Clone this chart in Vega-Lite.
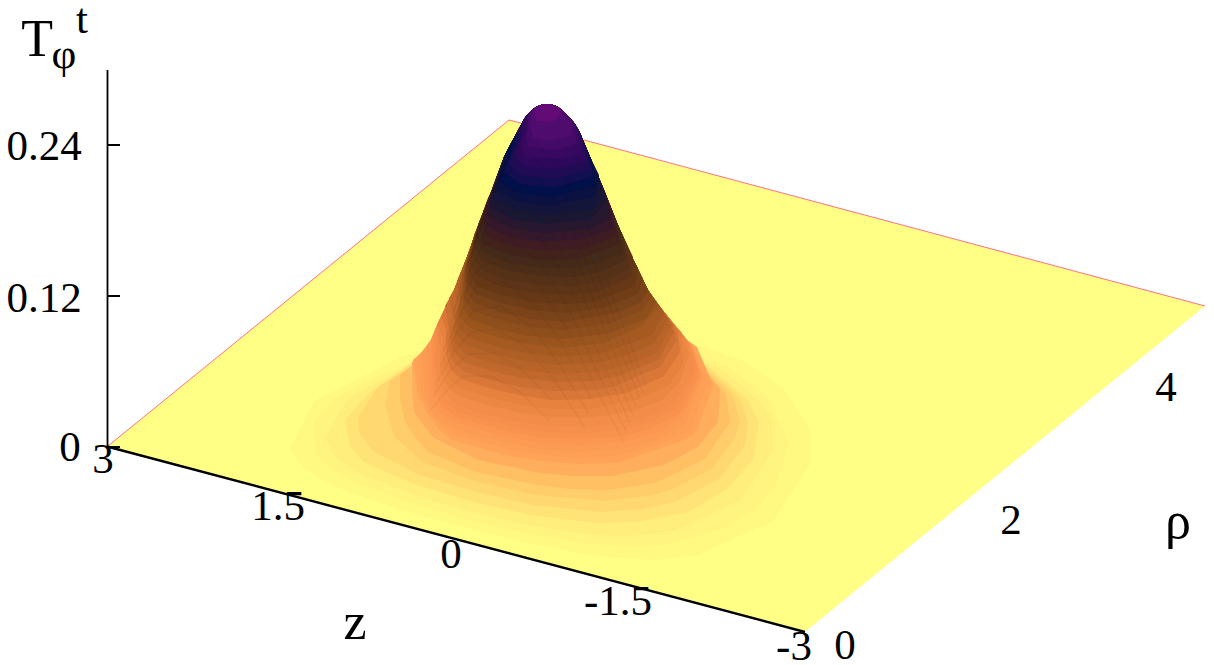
{"$schema":"https://vega.github.io/schema/vega-lite/v6.json","width":1214,"height":665,"padding":0,"autosize":{"type":"none"},"background":"white","view":{"stroke":null},"projection":{"type":"identity","scale":1,"translate":[0,0]},"layer":[
{"data":{"values":[
{"type":"Feature","properties":{"T":0},"geometry":{"type":"Polygon","coordinates":[[[108,446],[509,120],[1205,306],[806,631],[108,446]]]}},
{"type":"Feature","properties":{"T":0.005},"geometry":{"type":"Polygon","coordinates":[[[314,401],[290,449],[304,468],[326,482],[351,493],[406,511],[463,527],[522,542],[584,554],[618,558],[654,560],[698,555],[773,521],[811,463],[811,432],[785,390],[744,361],[690,342],[628,330],[552,329],[461,340],[403,356],[314,401]]]}},
{"type":"Feature","properties":{"T":0.0095},"geometry":{"type":"Polygon","coordinates":[[[333,400],[314,423],[315,453],[332,470],[356,483],[409,502],[465,519],[525,533],[589,544],[624,546],[665,545],[722,529],[755,510],[776,486],[789,444],[769,397],[729,367],[676,347],[613,336],[536,336],[439,352],[368,380],[333,400]]]}},
{"type":"Feature","properties":{"T":0.014},"geometry":{"type":"Polygon","coordinates":[[[348,398],[325,439],[338,460],[360,474],[412,494],[468,511],[528,525],[593,535],[630,536],[675,531],[740,500],[773,450],[772,420],[759,400],[720,368],[667,349],[604,337],[526,339],[480,344],[423,358],[348,398]]]}},
{"type":"Feature","properties":{"T":0.021},"geometry":{"type":"Polygon","coordinates":[[[369,393],[345,420],[350,446],[364,462],[414,484],[470,501],[530,515],[597,523],[636,522],[688,512],[727,489],[753,459],[759,423],[748,400],[711,368],[658,348],[595,337],[515,339],[467,347],[411,363],[369,393]]]}},
{"type":"Feature","properties":{"T":0.027},"geometry":{"type":"Polygon","coordinates":[[[378,387],[358,417],[359,433],[373,451],[417,474],[473,491],[533,505],[601,512],[643,509],[674,502],[719,479],[745,445],[748,423],[740,398],[704,365],[652,345],[588,334],[507,337],[456,347],[425,358],[378,387]]]}},
{"type":"Feature","properties":{"T":0.033},"geometry":{"type":"Polygon","coordinates":[[[390,381],[385,405],[388,416],[394,436],[422,462],[474,481],[535,495],[605,501],[649,496],[671,490],[712,469],[735,438],[740,422],[733,396],[699,362],[647,341],[583,331],[500,335],[448,346],[430,352],[390,381]]]}},
{"type":"Feature","properties":{"T":0.04},"geometry":{"type":"Polygon","coordinates":[[[400,375],[400,400],[405,422],[416,438],[428,452],[476,472],[537,485],[570,489],[608,490],[655,483],[705,459],[730,422],[726,394],[694,358],[642,337],[578,327],[493,333],[438,346],[400,375]]]}},
{"type":"Feature","properties":{"T":0.048},"geometry":{"type":"Polygon","coordinates":[[[412,362],[412,390],[414,412],[424,426],[434,438],[478,460],[540,473],[574,476],[612,476],[664,465],[698,447],[718,422],[720,389],[688,352],[638,330],[572,320],[490,330],[430,345],[412,362]]]}},
{"type":"Feature","properties":{"T":0.056},"geometry":{"type":"Polygon","coordinates":[[[413,360],[418,396],[428,414],[438,428],[452,440],[480,448],[510,456],[542,461],[576,464],[617,463],[682,441],[693,436],[698,428],[713,385],[697,347],[687,340],[673,323],[660,307],[648,290],[632,257],[617,223],[604,190],[590,157],[585,145],[580,133],[575,124],[569,117],[563,111],[558,107],[552,104.5],[547,104],[542,104.5],[536,107],[531,111],[526,116],[522,123],[514,138],[509,147],[504,157],[492,190],[479,223],[467,257],[454,290],[438,323],[431,340],[422,352],[413,360]]]}},
{"type":"Feature","properties":{"T":0.0596},"geometry":{"type":"Polygon","coordinates":[[[418,356],[421,392],[428,410],[438,423],[453,434],[481,442],[511,450],[543,455],[577,458],[619,456],[668,441],[690,430],[708,382],[692,345],[687,340],[673,323],[660,307],[648,290],[632,257],[617,223],[604,190],[590,157],[585,145],[580,133],[575,124],[569,117],[563,111],[558,107],[552,104.5],[547,104],[542,104.5],[536,107],[531,111],[526,116],[522,123],[514,138],[509,147],[504,157],[492,190],[479,223],[467,257],[454,290],[438,323],[431,340],[422,352],[418,356]]]}},
{"type":"Feature","properties":{"T":0.064},"geometry":{"type":"Polygon","coordinates":[[[422,352],[424,388],[429,406],[438,419],[454,428],[482,437],[512,444],[544,450],[579,452],[621,449],[655,441],[685,424],[703,378],[692,345],[687,340],[673,323],[660,307],[648,290],[632,257],[617,223],[604,190],[590,157],[585,145],[580,133],[575,124],[569,117],[563,111],[558,107],[552,104.5],[547,104],[542,104.5],[536,107],[531,111],[526,116],[522,123],[514,138],[509,147],[504,157],[492,190],[479,223],[467,257],[454,290],[438,323],[431,340],[422,352]]]}},
{"type":"Feature","properties":{"T":0.0675},"geometry":{"type":"Polygon","coordinates":[[[427,346],[428,381],[431,400],[440,413],[455,422],[483,431],[513,438],[545,444],[580,445],[623,442],[653,434],[682,418],[701,376],[692,347],[687,340],[673,323],[660,307],[648,290],[632,257],[617,223],[604,190],[590,157],[585,145],[580,133],[575,124],[569,117],[563,111],[558,107],[552,104.5],[547,104],[542,104.5],[536,107],[531,111],[526,116],[522,123],[514,138],[509,147],[504,157],[492,190],[479,223],[467,257],[454,290],[438,323],[431,340],[427,346]]]}},
{"type":"Feature","properties":{"T":0.072},"geometry":{"type":"Polygon","coordinates":[[[431,340],[432,375],[434,393],[442,407],[456,417],[484,425],[514,433],[546,438],[582,439],[625,436],[652,428],[680,413],[700,375],[693,350],[684,336],[673,323],[660,307],[648,290],[632,257],[617,223],[604,190],[590,157],[585,145],[580,133],[575,124],[569,117],[563,111],[558,107],[552,104.5],[547,104],[542,104.5],[536,107],[531,111],[526,116],[522,123],[514,138],[509,147],[504,157],[492,190],[479,223],[467,257],[454,290],[438,323],[431,340]]]}},
{"type":"Feature","properties":{"T":0.0755},"geometry":{"type":"Polygon","coordinates":[[[433,335],[434,368],[436,387],[444,401],[457,411],[485,420],[515,427],[547,432],[583,433],[627,429],[653,421],[678,407],[697,372],[691,346],[684,336],[673,323],[660,307],[648,290],[632,257],[617,223],[604,190],[590,157],[585,145],[580,133],[575,124],[569,117],[563,111],[558,107],[552,104.5],[547,104],[542,104.5],[536,107],[531,111],[526,116],[522,123],[514,138],[509,147],[504,157],[492,190],[479,223],[467,257],[454,290],[438,323],[433,335]]]}},
{"type":"Feature","properties":{"T":0.079},"geometry":{"type":"Polygon","coordinates":[[[436,328],[436,361],[438,381],[446,395],[458,405],[486,414],[516,421],[548,426],[585,427],[630,422],[655,414],[676,401],[694,370],[689,343],[680,332],[673,323],[660,307],[648,290],[632,257],[617,223],[604,190],[590,157],[585,145],[580,133],[575,124],[569,117],[563,111],[558,107],[552,104.5],[547,104],[542,104.5],[536,107],[531,111],[526,116],[522,123],[514,138],[509,147],[504,157],[492,190],[479,223],[467,257],[454,290],[438,323],[436,328]]]}},
{"type":"Feature","properties":{"T":0.0855},"geometry":{"type":"Polygon","coordinates":[[[437,325],[440,350],[440,372],[447,386],[459,396],[487,405],[517,412],[549,417],[587,418],[635,411],[662,400],[680,382],[689,355],[685,338],[673,323],[660,307],[648,290],[632,257],[617,223],[604,190],[590,157],[585,145],[580,133],[575,124],[569,117],[563,111],[558,107],[552,104.5],[547,104],[542,104.5],[536,107],[531,111],[526,116],[522,123],[514,138],[509,147],[504,157],[492,190],[479,223],[467,257],[454,290],[437,325]]]}},
{"type":"Feature","properties":{"T":0.091},"geometry":{"type":"Polygon","coordinates":[[[438,323],[443,338],[443,363],[449,378],[460,388],[488,397],[518,404],[551,409],[589,409],[640,399],[669,385],[683,364],[682,333],[673,323],[660,307],[648,290],[632,257],[617,223],[604,190],[590,157],[585,145],[580,133],[575,124],[569,117],[563,111],[558,107],[552,104.5],[547,104],[542,104.5],[536,107],[531,111],[526,116],[522,123],[514,138],[509,147],[504,157],[492,190],[479,223],[467,257],[454,290],[438,323]]]}},
{"type":"Feature","properties":{"T":0.0974},"geometry":{"type":"Polygon","coordinates":[[[441,316],[446,330],[446,353],[450,369],[461,379],[489,388],[519,395],[552,400],[591,399],[626,393],[664,376],[680,352],[678,330],[673,323],[660,307],[648,290],[632,257],[617,223],[604,190],[590,157],[585,145],[580,133],[575,124],[569,117],[563,111],[558,107],[552,104.5],[547,104],[542,104.5],[536,107],[531,111],[526,116],[522,123],[514,138],[509,147],[504,157],[492,190],[479,223],[467,257],[454,290],[441,316]]]}},
{"type":"Feature","properties":{"T":0.103},"geometry":{"type":"Polygon","coordinates":[[[445,306],[450,335],[448,344],[452,360],[463,371],[490,380],[521,387],[554,391],[594,390],[613,387],[660,367],[677,340],[673,323],[660,307],[648,290],[632,257],[617,223],[604,190],[590,157],[585,145],[580,133],[575,124],[569,117],[563,111],[558,107],[552,104.5],[547,104],[542,104.5],[536,107],[531,111],[526,116],[522,123],[514,138],[509,147],[504,157],[492,190],[479,223],[467,257],[454,290],[445,306]]]}},
{"type":"Feature","properties":{"T":0.1093},"geometry":{"type":"Polygon","coordinates":[[[449,298],[454,322],[450,335],[453,351],[464,362],[491,371],[522,378],[555,382],[595,381],[622,375],[659,359],[674,332],[660,307],[648,290],[632,257],[617,223],[604,190],[590,157],[585,145],[580,133],[575,124],[569,117],[563,111],[558,107],[552,104.5],[547,104],[542,104.5],[536,107],[531,111],[526,116],[522,123],[514,138],[509,147],[504,157],[492,190],[479,223],[467,257],[454,290],[449,298]]]}},
{"type":"Feature","properties":{"T":0.115},"geometry":{"type":"Polygon","coordinates":[[[454,290],[459,309],[453,326],[455,343],[465,354],[493,363],[523,370],[557,374],[597,372],[631,364],[658,352],[672,325],[660,307],[648,290],[632,257],[617,223],[604,190],[590,157],[585,145],[580,133],[575,124],[569,117],[563,111],[558,107],[552,104.5],[547,104],[542,104.5],[536,107],[531,111],[526,116],[522,123],[514,138],[509,147],[504,157],[492,190],[479,223],[467,257],[454,290]]]}},
{"type":"Feature","properties":{"T":0.1212},"geometry":{"type":"Polygon","coordinates":[[[457,281],[461,300],[455,316],[456,334],[466,345],[494,354],[524,361],[558,365],[600,362],[630,354],[655,343],[668,318],[660,307],[648,290],[632,257],[617,223],[604,190],[590,157],[585,145],[580,133],[575,124],[569,117],[563,111],[558,107],[552,104.5],[547,104],[542,104.5],[536,107],[531,111],[526,116],[522,123],[514,138],[509,147],[504,157],[492,190],[479,223],[467,257],[457,281]]]}},
{"type":"Feature","properties":{"T":0.127},"geometry":{"type":"Polygon","coordinates":[[[461,272],[463,292],[458,307],[458,326],[468,337],[495,346],[526,353],[560,357],[602,353],[629,344],[652,335],[664,312],[648,290],[632,257],[617,223],[604,190],[590,157],[585,145],[580,133],[575,124],[569,117],[563,111],[558,107],[552,104.5],[547,104],[542,104.5],[536,107],[531,111],[526,116],[522,123],[514,138],[509,147],[504,157],[492,190],[479,223],[467,257],[461,272]]]}},
{"type":"Feature","properties":{"T":0.1331},"geometry":{"type":"Polygon","coordinates":[[[464,264],[464,281],[460,297],[460,317],[470,328],[496,337],[527,344],[561,348],[604,343],[640,327],[660,307],[648,290],[632,257],[617,223],[604,190],[590,157],[585,145],[580,133],[575,124],[569,117],[563,111],[558,107],[552,104.5],[547,104],[542,104.5],[536,107],[531,111],[526,116],[522,123],[514,138],[509,147],[504,157],[492,190],[479,223],[467,257],[464,264]]]}},
{"type":"Feature","properties":{"T":0.139},"geometry":{"type":"Polygon","coordinates":[[[467,257],[465,270],[463,288],[463,308],[472,320],[498,329],[528,336],[563,339],[607,334],[646,319],[656,302],[648,290],[632,257],[617,223],[604,190],[590,157],[585,145],[580,133],[575,124],[569,117],[563,111],[558,107],[552,104.5],[547,104],[542,104.5],[536,107],[531,111],[526,116],[522,123],[514,138],[509,147],[504,157],[492,190],[479,223],[467,257]]]}},
{"type":"Feature","properties":{"T":0.145},"geometry":{"type":"Polygon","coordinates":[[[470,250],[467,262],[465,278],[464,299],[473,311],[499,320],[529,327],[564,330],[611,323],[643,310],[652,296],[648,290],[632,257],[617,223],[604,190],[590,157],[585,145],[580,133],[575,124],[569,117],[563,111],[558,107],[552,104.5],[547,104],[542,104.5],[536,107],[531,111],[526,116],[522,123],[514,138],[509,147],[504,157],[492,190],[479,223],[470,250]]]}},
{"type":"Feature","properties":{"T":0.151},"geometry":{"type":"Polygon","coordinates":[[[472,242],[470,255],[467,267],[466,291],[475,303],[500,312],[531,319],[566,322],[615,313],[641,302],[648,290],[632,257],[617,223],[604,190],[590,157],[585,145],[580,133],[575,124],[569,117],[563,111],[558,107],[552,104.5],[547,104],[542,104.5],[536,107],[531,111],[526,116],[522,123],[514,138],[509,147],[504,157],[492,190],[479,223],[472,242]]]}},
{"type":"Feature","properties":{"T":0.157},"geometry":{"type":"Polygon","coordinates":[[[474,235],[472,250],[468,264],[467,282],[476,294],[501,303],[532,310],[567,313],[605,307],[638,294],[643,279],[632,257],[617,223],[604,190],[590,157],[585,145],[580,133],[575,124],[569,117],[563,111],[558,107],[552,104.5],[547,104],[542,104.5],[536,107],[531,111],[526,116],[522,123],[514,138],[509,147],[504,157],[492,190],[479,223],[474,235]]]}},
{"type":"Feature","properties":{"T":0.163},"geometry":{"type":"Polygon","coordinates":[[[477,228],[474,245],[470,261],[469,273],[477,286],[502,295],[533,302],[569,304],[596,301],[635,286],[638,268],[632,257],[617,223],[604,190],[590,157],[585,145],[580,133],[575,124],[569,117],[563,111],[558,107],[552,104.5],[547,104],[542,104.5],[536,107],[531,111],[526,116],[522,123],[514,138],[509,147],[504,157],[492,190],[479,223],[477,228]]]}},
{"type":"Feature","properties":{"T":0.169},"geometry":{"type":"Polygon","coordinates":[[[479,222],[476,236],[472,252],[471,264],[478,277],[503,287],[534,293],[571,295],[599,291],[632,277],[633,257],[617,223],[604,190],[590,157],[585,145],[580,133],[575,124],[569,117],[563,111],[558,107],[552,104.5],[547,104],[542,104.5],[536,107],[531,111],[526,116],[522,123],[514,138],[509,147],[504,157],[492,190],[479,222]]]}},
{"type":"Feature","properties":{"T":0.175},"geometry":{"type":"Polygon","coordinates":[[[482,215],[478,228],[474,242],[473,255],[480,269],[505,279],[536,285],[573,286],[602,281],[630,269],[628,247],[617,223],[604,190],[590,157],[585,145],[580,133],[575,124],[569,117],[563,111],[558,107],[552,104.5],[547,104],[542,104.5],[536,107],[531,111],[526,116],[522,123],[514,138],[509,147],[504,157],[492,190],[482,215]]]}},
{"type":"Feature","properties":{"T":0.181},"geometry":{"type":"Polygon","coordinates":[[[484,210],[480,221],[476,234],[474,246],[481,260],[506,270],[537,276],[574,277],[600,272],[626,260],[624,240],[617,223],[604,190],[590,157],[585,145],[580,133],[575,124],[569,117],[563,111],[558,107],[552,104.5],[547,104],[542,104.5],[536,107],[531,111],[526,116],[522,123],[514,138],[509,147],[504,157],[492,190],[484,210]]]}},
{"type":"Feature","properties":{"T":0.187},"geometry":{"type":"Polygon","coordinates":[[[486,204],[483,214],[478,227],[476,237],[482,252],[507,262],[538,268],[576,268],[598,263],[623,252],[621,232],[617,223],[604,190],[590,157],[585,145],[580,133],[575,124],[569,117],[563,111],[558,107],[552,104.5],[547,104],[542,104.5],[536,107],[531,111],[526,116],[522,123],[514,138],[509,147],[504,157],[492,190],[486,204]]]}},
{"type":"Feature","properties":{"T":0.193},"geometry":{"type":"Polygon","coordinates":[[[488,198],[484,209],[480,226],[482,244],[508,254],[540,260],[578,259],[620,244],[617,222],[604,190],[590,157],[585,145],[580,133],[575,124],[569,117],[563,111],[558,107],[552,104.5],[547,104],[542,104.5],[536,107],[531,111],[526,116],[522,123],[514,138],[509,147],[504,157],[492,190],[488,198]]]}},
{"type":"Feature","properties":{"T":0.199},"geometry":{"type":"Polygon","coordinates":[[[491,192],[486,204],[483,218],[485,235],[509,245],[541,251],[581,249],[617,236],[612,210],[604,190],[590,157],[585,145],[580,133],[575,124],[569,117],[563,111],[558,107],[552,104.5],[547,104],[542,104.5],[536,107],[531,111],[526,116],[522,123],[514,138],[509,147],[504,157],[491,192]]]}},
{"type":"Feature","properties":{"T":0.205},"geometry":{"type":"Polygon","coordinates":[[[494,183],[488,201],[486,226],[510,237],[542,242],[584,239],[614,228],[609,203],[604,190],[590,157],[585,145],[580,133],[575,124],[569,117],[563,111],[558,107],[552,104.5],[547,104],[542,104.5],[536,107],[531,111],[526,116],[522,123],[514,138],[509,147],[504,157],[494,183]]]}},
{"type":"Feature","properties":{"T":0.211},"geometry":{"type":"Polygon","coordinates":[[[497,176],[490,198],[488,217],[512,228],[544,233],[588,229],[611,219],[606,195],[590,157],[585,145],[580,133],[575,124],[569,117],[563,111],[558,107],[552,104.5],[547,104],[542,104.5],[536,107],[531,111],[526,116],[522,123],[514,138],[509,147],[504,157],[497,176]]]}},
{"type":"Feature","properties":{"T":0.217},"geometry":{"type":"Polygon","coordinates":[[[499,170],[494,188],[490,208],[513,219],[545,224],[591,219],[606,202],[604,190],[590,157],[585,145],[580,133],[575,124],[569,117],[563,111],[558,107],[552,104.5],[547,104],[542,104.5],[536,107],[531,111],[526,116],[522,123],[514,138],[509,147],[504,157],[499,170]]]}},
{"type":"Feature","properties":{"T":0.223},"geometry":{"type":"Polygon","coordinates":[[[502,162],[498,178],[492,199],[515,210],[547,215],[594,209],[602,185],[590,157],[585,145],[580,133],[575,124],[569,117],[563,111],[558,107],[552,104.5],[547,104],[542,104.5],[536,107],[531,111],[526,116],[522,123],[514,138],[509,147],[504,157],[502,162]]]}},
{"type":"Feature","properties":{"T":0.229},"geometry":{"type":"Polygon","coordinates":[[[506,152],[502,168],[496,190],[516,201],[549,206],[595,197],[599,175],[590,157],[585,145],[580,133],[575,124],[569,117],[563,111],[558,107],[552,104.5],[547,104],[542,104.5],[536,107],[531,111],[526,116],[522,123],[514,138],[509,147],[506,152]]]}},
{"type":"Feature","properties":{"T":0.234},"geometry":{"type":"Polygon","coordinates":[[[510,145],[506,158],[499,181],[518,193],[551,197],[596,185],[590,157],[585,145],[580,133],[575,124],[569,117],[563,111],[558,107],[552,104.5],[547,104],[542,104.5],[536,107],[531,111],[526,116],[522,123],[514,138],[510,145]]]}},
{"type":"Feature","properties":{"T":0.24},"geometry":{"type":"Polygon","coordinates":[[[514,138],[511,152],[504,172],[520,184],[553,188],[594,177],[588,152],[580,133],[575,124],[569,117],[563,111],[558,107],[552,104.5],[547,104],[542,104.5],[536,107],[531,111],[526,116],[522,123],[514,138]]]}},
{"type":"Feature","properties":{"T":0.246},"geometry":{"type":"Polygon","coordinates":[[[518,130],[517,145],[508,163],[521,175],[555,179],[591,169],[585,146],[580,133],[575,124],[569,117],[563,111],[558,107],[552,104.5],[547,104],[542,104.5],[536,107],[531,111],[526,116],[522,123],[518,130]]]}},
{"type":"Feature","properties":{"T":0.252},"geometry":{"type":"Polygon","coordinates":[[[522,123],[521,138],[514,153],[523,166],[558,169],[587,160],[582,138],[575,124],[569,117],[563,111],[558,107],[552,104.5],[547,104],[542,104.5],[536,107],[531,111],[526,116],[522,123]]]}},
{"type":"Feature","properties":{"T":0.258},"geometry":{"type":"Polygon","coordinates":[[[525,118],[526,132],[520,143],[525,157],[562,159],[582,152],[578,130],[575,124],[569,117],[563,111],[558,107],[552,104.5],[547,104],[542,104.5],[536,107],[531,111],[526,116],[525,118]]]}},
{"type":"Feature","properties":{"T":0.264},"geometry":{"type":"Polygon","coordinates":[[[528,114],[528,128],[526,140],[529,147],[556,150],[577,143],[575,125],[569,117],[563,111],[558,107],[552,104.5],[547,104],[542,104.5],[536,107],[531,111],[528,114]]]}},
{"type":"Feature","properties":{"T":0.27},"geometry":{"type":"Polygon","coordinates":[[[531,111],[530,125],[533,138],[550,141],[572,135],[572,121],[569,117],[563,111],[558,107],[552,104.5],[547,104],[542,104.5],[536,107],[531,111]]]}},
{"type":"Feature","properties":{"T":0.28},"geometry":{"type":"Polygon","coordinates":[[[534,109],[536,121],[553,122],[563,112],[558,107],[552,104.5],[547,104],[542,104.5],[536,107],[534,109]]]}}
]},"mark":{"type":"geoshape","stroke":null},"encoding":{"color":{"field":"properties.T","type":"quantitative","legend":null,"scale":{"domain":[0,0.016,0.032,0.05,0.07,0.09,0.105,0.13,0.16,0.19,0.215,0.234,0.25,0.287],"range":["#ffff85","#ffec7b","#ffd06c","#ffaa5c","#fa9450","#e8823f","#c86c30","#a05820","#6a3a16","#402818","#1a1830","#001048","#2a0858","#6f0a7c"]}}}},
{"data":{"values":[
{"type":"Feature","properties":{"rho":0.44},"geometry":{"type":"LineString","coordinates":[[430,411],[447,390],[464,376],[491,376],[520,392],[549,420]]}},
{"type":"Feature","properties":{"rho":0.48},"geometry":{"type":"LineString","coordinates":[[433,396],[450,371],[467,354],[494,353],[523,370],[552,401]]}},
{"type":"Feature","properties":{"rho":0.52},"geometry":{"type":"LineString","coordinates":[[437,382],[454,352],[471,332],[498,329],[527,348],[556,382],[585,428]]}},
{"type":"Feature","properties":{"rho":0.56},"geometry":{"type":"LineString","coordinates":[[440,367],[457,333],[474,310],[501,306],[530,326],[559,363],[588,413]]}},
{"type":"Feature","properties":{"rho":0.6},"geometry":{"type":"LineString","coordinates":[[443,352],[460,314],[477,287],[504,282],[533,303],[562,344],[591,398]]}},
{"type":"Feature","properties":{"rho":0.64},"geometry":{"type":"LineString","coordinates":[[446,339],[463,296],[480,266],[507,260],[536,282],[565,326],[594,385],[624,442]]}},
{"type":"Feature","properties":{"rho":0.68},"geometry":{"type":"LineString","coordinates":[[449,325],[466,278],[483,245],[510,238],[539,261],[568,308],[597,371],[627,433]]}},
{"type":"Feature","properties":{"rho":0.72},"geometry":{"type":"LineString","coordinates":[[453,313],[470,261],[487,226],[514,218],[543,242],[572,292],[601,359],[630,423]]}},
{"type":"Feature","properties":{"rho":0.76},"geometry":{"type":"LineString","coordinates":[[456,300],[474,246],[490,208],[517,199],[546,224],[575,276],[604,346],[633,415]]}},
{"type":"Feature","properties":{"rho":0.8},"geometry":{"type":"LineString","coordinates":[[459,290],[477,231],[494,190],[520,180],[549,206],[578,261],[607,335],[636,407]]}},
{"type":"Feature","properties":{"rho":0.84},"geometry":{"type":"LineString","coordinates":[[462,279],[482,219],[499,176],[523,165],[552,192],[581,249],[610,325],[640,399]]}},
{"type":"Feature","properties":{"rho":0.88},"geometry":{"type":"LineString","coordinates":[[465,269],[488,206],[506,162],[526,150],[555,178],[584,236],[613,315],[643,393]]}},
{"type":"Feature","properties":{"rho":0.92},"geometry":{"type":"LineString","coordinates":[[469,262],[493,196],[512,150],[530,138],[559,165],[588,226],[617,308],[646,386]]}}
]},"mark":{"type":"geoshape","filled":false,"stroke":"#000","strokeOpacity":0.04,"strokeWidth":1.5}},
{"data":{"values":[{"type":"Feature","properties":{"part":"back edge"},"geometry":{"type":"LineString","coordinates":[[108,446],[509,120],[521,123]]}},{"type":"Feature","properties":{"part":"back edge right"},"geometry":{"type":"LineString","coordinates":[[584,140],[1205,306]]}}]},"mark":{"type":"geoshape","filled":false,"stroke":"#ff7088","strokeWidth":1}},
{"data":{"values":[{"type":"Feature","properties":{"part":"axes"},"geometry":{"type":"MultiLineString","coordinates":[[[107.5,70],[107.5,447]],[[107.5,145],[120,145]],[[107.5,296],[120,296]],[[107.5,447],[120,447]]]}}]},"mark":{"type":"geoshape","filled":false,"stroke":"#000","strokeWidth":1.8}},
{"data":{"values":[{"type":"Feature","properties":{"part":"z axis"},"geometry":{"type":"LineString","coordinates":[[107,446.5],[805,632]]}}]},"mark":{"type":"geoshape","filled":false,"stroke":"#000","strokeWidth":2.4}},
{"data":{"values":[{"t":"0.24","lon":44,"lat":160},{"t":"0.12","lon":44,"lat":312},{"t":"0","lon":70,"lat":461},{"t":"3","lon":103,"lat":473},{"t":"1.5","lon":278,"lat":520},{"t":"0","lon":451,"lat":568},{"t":"-1.5","lon":618,"lat":615},{"t":"-3","lon":794,"lat":660},{"t":"0","lon":845,"lat":659},{"t":"2","lon":1011,"lat":534},{"t":"4","lon":1166,"lat":401},{"t":"φ","lon":64,"lat":68},{"t":"t","lon":82,"lat":33}]},"mark":{"type":"text","font":"Liberation Serif","fontSize":43,"baseline":"alphabetic","align":"center","color":"#000"},"encoding":{"longitude":{"field":"lon","type":"quantitative"},"latitude":{"field":"lat","type":"quantitative"},"text":{"field":"t"}}},
{"data":{"values":[{"t":"T","lon":37,"lat":56},{"t":"z","lon":355,"lat":639},{"t":"ρ","lon":1178,"lat":538}]},"mark":{"type":"text","font":"Liberation Serif","fontSize":52,"baseline":"alphabetic","align":"center","color":"#000"},"encoding":{"longitude":{"field":"lon","type":"quantitative"},"latitude":{"field":"lat","type":"quantitative"},"text":{"field":"t"}}}
]}
